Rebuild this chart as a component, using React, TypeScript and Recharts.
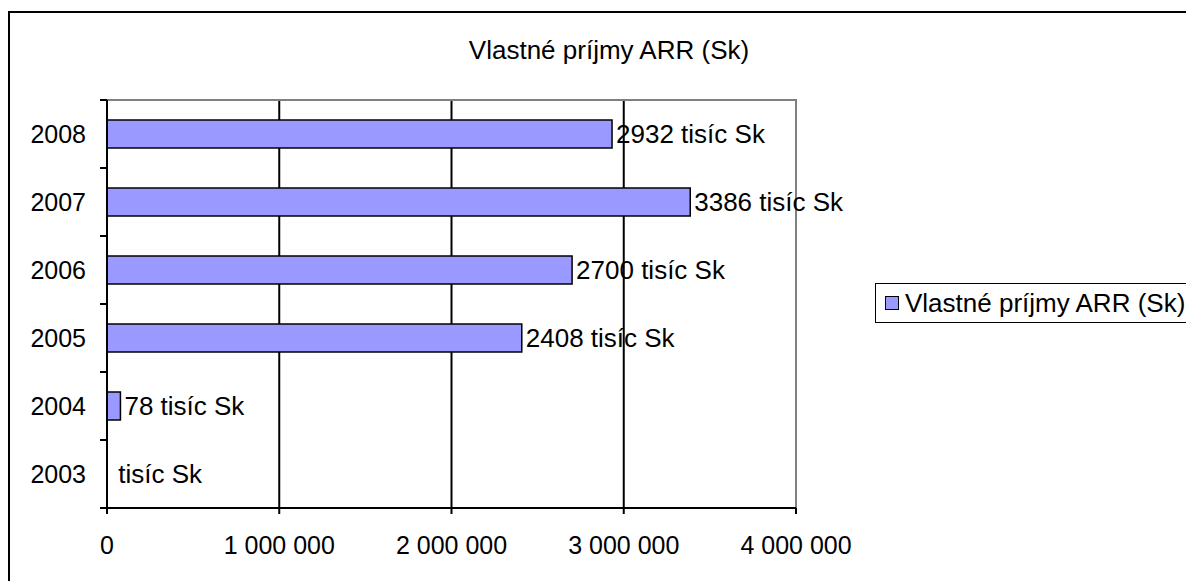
import React from 'react';
import {
  BarChart,
  Bar,
  Cell,
  XAxis,
  YAxis,
  CartesianGrid,
  Legend,
  LabelList,
  ReferenceArea,
} from 'recharts';

const years = ['2003', '2004', '2005', '2006', '2007', '2008'];
// vlastné príjmy v tisícoch Sk (2003 prázdne)
const incomeThousands = [0, 78, 2408, 2700, 3386, 2932];
const xTicks = [0, 1000000, 2000000, 3000000, 4000000];

const seriesName = 'Vlastné príjmy ARR (Sk)';

const data = years.map((year, i) => ({
  year,
  amount: incomeThousands[i] * 1000,
  label: incomeThousands[i] ? `${incomeThousands[i]} tisíc Sk` : ' tisíc Sk',
}));

const W = 1186;
const H = 581;
const PLOT_TOP = 100;
const PLOT_LEFT = 107;
const PLOT_RIGHT = 796;
const PLOT_BOTTOM = 508;
const HALF_BAND = (PLOT_BOTTOM - PLOT_TOP) / years.length / 2;

const FONT = 'Liberation Sans, Arial, sans-serif';

const formatAmount = (v: number) =>
  v.toString().replace(/\B(?=(\d{3})+(?!\d))/g, ' ');

const YearTick = (props: any) => {
  const { x, y, payload, index } = props;
  return (
    <g>
      <line x1={x - 7} x2={x} y1={y - HALF_BAND} y2={y - HALF_BAND} stroke="#000" strokeWidth={2} />
      {index === 0 && (
        <line x1={x - 7} x2={x} y1={y + HALF_BAND} y2={y + HALF_BAND} stroke="#000" strokeWidth={2} />
      )}
      <text x={x - 21} y={y} dy="0.355em" textAnchor="end" fontSize={25} fill="#000" fontFamily={FONT}>
        {payload.value}
      </text>
    </g>
  );
};

const BarLabel = (props: any) => {
  const { x, y, width, height, value } = props;
  return (
    <text
      x={x + width + 4}
      y={y + height / 2}
      dy="0.355em"
      fontSize={26}
      fill="#000"
      fontFamily={FONT}
      style={{ whiteSpace: 'pre' }}
    >
      {value}
    </text>
  );
};

const LegendBox = () => (
  <div
    style={{
      border: '1.5px solid #000',
      height: 40,
      width: 400,
      display: 'flex',
      alignItems: 'center',
      fontFamily: FONT,
      fontSize: 26,
      background: '#fff',
      boxSizing: 'border-box',
    }}
  >
    <span
      style={{
        display: 'inline-block',
        width: 12,
        height: 12,
        background: '#9999FF',
        border: '1.5px solid #000',
        marginLeft: 9,
        marginRight: 6,
      }}
    />
    <span style={{ whiteSpace: 'nowrap' }}>{seriesName}</span>
  </div>
);

export default function App() {
  return (
    <div style={{ position: 'fixed', left: 0, top: 0, width: W, height: H, overflow: 'hidden', background: '#fff' }}>
      <div
        style={{
          position: 'absolute',
          left: 8,
          top: 11,
          width: 1400,
          height: 800,
          border: '2px solid #000',
        }}
      />
      <div
        style={{
          position: 'absolute',
          left: 0,
          top: 35,
          width: 1218,
          textAlign: 'center',
          fontFamily: FONT,
          fontSize: 26,
          lineHeight: '30px',
        }}
      >
        {seriesName}
      </div>
      <div style={{ position: 'absolute', left: 0, top: 0 }}>
        <BarChart
          width={W}
          height={H}
          data={data}
          layout="vertical"
          margin={{ top: PLOT_TOP, right: W - PLOT_RIGHT, bottom: H - PLOT_BOTTOM - 40, left: 0 }}
        >
          <CartesianGrid horizontal={false} stroke="#000" strokeWidth={2} />
          <ReferenceArea
            x1={0}
            x2={4000000}
            fill="none"
            stroke="#808080"
            strokeWidth={2}
            ifOverflow="visible"
          />
          <XAxis
            type="number"
            domain={[0, 4000000]}
            ticks={xTicks}
            tickFormatter={formatAmount}
            height={40}
            axisLine={{ stroke: '#000', strokeWidth: 2 }}
            tickLine={{ stroke: '#000', strokeWidth: 2 }}
            tickSize={6}
            tickMargin={22}
            tick={{ fill: '#000', fontSize: 25, fontFamily: FONT }}
            interval={0}
          />
          <YAxis
            type="category"
            dataKey="year"
            reversed
            width={PLOT_LEFT}
            tickSize={0}
            tickMargin={0}
            tickLine={false}
            axisLine={{ stroke: '#000', strokeWidth: 2 }}
            tick={<YearTick />}
            interval={0}
          />
          <Legend
            layout="vertical"
            align="center"
            verticalAlign="middle"
            content={<LegendBox />}
            wrapperStyle={{ position: 'absolute', left: 875, top: 283, width: 400 }}
          />
          <Bar
            dataKey="amount"
            name={seriesName}
            fill="#9999FF"
            stroke="#000"
            strokeWidth={1.5}
            barSize={28}
            minPointSize={(v: number) => (v === 0 ? 0.01 : 0)}
            isAnimationActive={false}
          >
            {data.map((d) => (
              <Cell key={d.year} stroke={d.amount === 0 ? 'none' : '#000'} />
            ))}
            <LabelList dataKey="label" content={<BarLabel />} />
          </Bar>
        </BarChart>
      </div>
    </div>
  );
}
